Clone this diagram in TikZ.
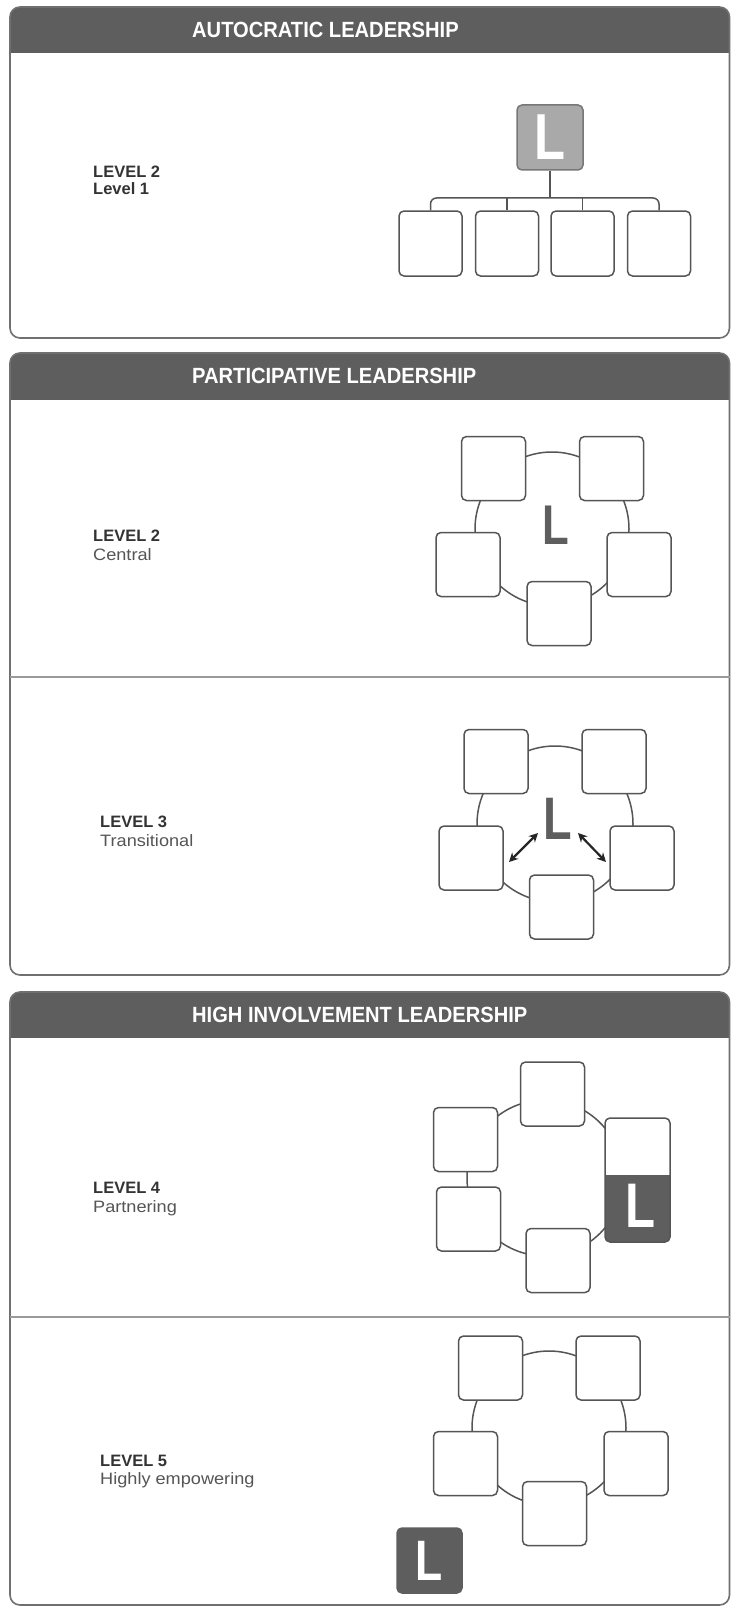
\documentclass[tikz,border=0pt]{standalone}
\usepackage{fontspec}
\setmainfont{Liberation Sans}
\newfontfamily\titlefont{Liberation Sans}[FakeStretch=0.915]
\newfontfamily\subfont{Liberation Sans}[FakeStretch=1.1]
\newfontfamily\Lfont{Liberation Sans}[FakeStretch=0.78]
\usetikzlibrary{arrows.meta}
\definecolor{hdrgray}{HTML}{5E5E5E}
\definecolor{panelgray}{HTML}{707070}
\definecolor{boxgray}{HTML}{555555}
\definecolor{lgray}{HTML}{A9A9A9}
\definecolor{sepgray}{HTML}{9A9A9A}
\definecolor{txtdark}{HTML}{333333}
\definecolor{txtgray}{HTML}{555555}
\begin{document}
\begin{tikzpicture}[x=1pt,y=-1pt,
  panel/.style={draw=panelgray, line width=1.6pt, rounded corners=10pt},
  sepline/.style={draw=sepgray, line width=2pt},
  box/.style={draw=boxgray, line width=1.5pt, fill=white, rounded corners=5pt,
              minimum width=64pt, minimum height=64pt, inner sep=0pt},
  ring/.style={draw=boxgray, line width=1.5pt, circle, inner sep=0pt},
  conn/.style={draw=boxgray, line width=1.5pt},
  dbl/.style={draw=black!85, line width=2.2pt, {Stealth[length=9pt,width=9pt]}-{Stealth[length=9pt,width=9pt]}},
  ttl/.style={anchor=base west, inner sep=0pt, text=white,
              font=\titlefont\bfseries\fontsize{22}{22}\selectfont},
  lvl/.style={anchor=base west, inner sep=0pt, text=txtdark,
              font=\bfseries\fontsize{16.5}{16.5}\selectfont},
  sub/.style={anchor=base west, inner sep=0pt, text=txtgray,
              font=\subfont\fontsize{16.5}{16.5}\selectfont},
  bigL/.style={inner sep=0pt, font=\Lfont\bfseries\fontsize{#1}{#1}\selectfont},
]
\useasboundingbox (0,0) rectangle (731,1608);
\fill[white] (0,0) rectangle (731,1608);

% ---------- Panel 1 ----------
\begin{scope}
  \clip (0,0) rectangle (731,53);
  \fill[hdrgray, rounded corners=10pt] (10,7) rectangle (729.5,338);
\end{scope}
\draw[panel] (10,7) rectangle (729.5,338);
\node[ttl] (t1) at (192,37.5) {AUTOCRATIC LEADERSHIP};
\node[lvl] (l1a) at (93,177.5) {LEVEL 2};
\node[lvl] (l1b) at (93,195) {Level 1};

\node[box, fill=lgray, draw=boxgray!80, minimum width=66pt, minimum height=65pt] (p1L) at (550,137.5) {};
\node[bigL=65, text=white] (p1Lt) at (p1L.center) {L};
\node[box, minimum width=63pt, minimum height=65pt] (b1) at (430.5,243.5) {};
\node[box, minimum width=63pt, minimum height=65pt] (b2) at (507,243.5) {};
\node[box, minimum width=63pt, minimum height=65pt] (b3) at (582.5,243.5) {};
\node[box, minimum width=63pt, minimum height=65pt] (b4) at (659,243.5) {};
\coordinate (bus) at (550,198);
\draw[conn] (p1L.south) -- (bus);
\draw[conn, rounded corners=6pt] (b1.north) |- (bus) -| (b4.north);
\draw[conn] (b2.north) -- (b2.north |- bus);
\draw[conn] (b3.north) -- (b3.north |- bus);

% ---------- Panel 2 ----------
\begin{scope}
  \clip (0,340) rectangle (731,399);
  \fill[hdrgray, rounded corners=10pt] (10,353) rectangle (729.5,975);
\end{scope}
\draw[panel] (10,353) rectangle (729.5,975);
\draw[sepline] (10,677) -- (729.5,677);
\node[ttl] (t2) at (192,383) {PARTICIPATIVE LEADERSHIP};

% Level 2 central
\node[lvl] (l2a) at (93,541) {LEVEL 2};
\node[sub] (l2b) at (93,560) {Central};
\node[ring, minimum size=154pt] (r2) at (552,529) {};
\node[box] (c2tl) at (493.5,468.5) {};
\node[box] (c2tr) at (611.5,468.5) {};
\node[box] (c2l) at (468,564.5) {};
\node[box] (c2r) at (639,564.5) {};
\node[box] (c2b) at (559,613.5) {};
\node[bigL=56, text=hdrgray] (c2L) at (556,525) {L};

% Level 3 transitional
\node[lvl] (l3a) at (100,827) {LEVEL 3};
\node[sub] (l3b) at (100,846) {Transitional};
\node[ring, minimum size=156pt] (r3) at (555,824) {};
\node[box] (c3tl) at (496,761.5) {};
\node[box] (c3tr) at (614,761.5) {};
\node[box] (c3l) at (471,858) {};
\node[box] (c3r) at (642,858) {};
\node[box] (c3b) at (561.5,907) {};
\node[bigL=60, text=hdrgray] (c3L) at (558,818.5) {L};
\coordinate (a1s) at (509,862);
\coordinate (a1e) at (538,833);
\coordinate (a2s) at (578,833);
\coordinate (a2e) at (606,862);
\draw[dbl] (a1s) -- (a1e);
\draw[dbl] (a2s) -- (a2e);

% ---------- Panel 3 ----------
\begin{scope}
  \clip (0,985) rectangle (731,1037);
  \fill[hdrgray, rounded corners=10pt] (10,992) rectangle (729.5,1605);
\end{scope}
\draw[panel] (10,992) rectangle (729.5,1605);
\draw[sepline] (10,1317) -- (729.5,1317);
\node[ttl] (t3) at (192,1022) {HIGH INVOLVEMENT LEADERSHIP};

% Level 4 partnering
\node[lvl] (l4a) at (93,1193.5) {LEVEL 4};
\node[sub] (l4b) at (93,1212) {Partnering};
\node[ring, minimum size=156pt] (r4) at (545,1178) {};
\node[box] (c4t) at (552.5,1094) {};
\node[box] (c4lu) at (465.5,1139.5) {};
\node[box] (c4ll) at (468.5,1219) {};
\node[box] (c4b) at (558,1260.5) {};
\fill[white, rounded corners=5pt] (605,1118) rectangle (670,1242);
\begin{scope}
  \clip (600,1175) rectangle (675,1250);
  \fill[hdrgray, rounded corners=5pt] (605,1118) rectangle (670,1242);
\end{scope}
\node[box, fill=none, minimum width=65pt, minimum height=124pt] (c4L) at (637.5,1180) {};
\node[bigL=63, text=white] (c4Lt) at (640.5,1205.5) {L};

% Level 5 highly empowering
\node[lvl] (l5a) at (100,1466) {LEVEL 5};
\node[sub] (l5b) at (100,1484) {Highly empowering};
\node[ring, minimum size=154pt] (r5) at (549,1428) {};
\node[box] (c5tl) at (490.5,1368) {};
\node[box] (c5tr) at (608,1368) {};
\node[box] (c5l) at (465.5,1463.5) {};
\node[box] (c5r) at (636,1463.5) {};
\node[box] (c5b) at (554.5,1513.5) {};
\node[box, fill=hdrgray, draw=hdrgray, minimum width=65pt, minimum height=65pt] (c5L) at (429.5,1560.5) {};
\node[bigL=57, text=white] (c5Lt) at (c5L.center) {L};
\end{tikzpicture}
\end{document}
